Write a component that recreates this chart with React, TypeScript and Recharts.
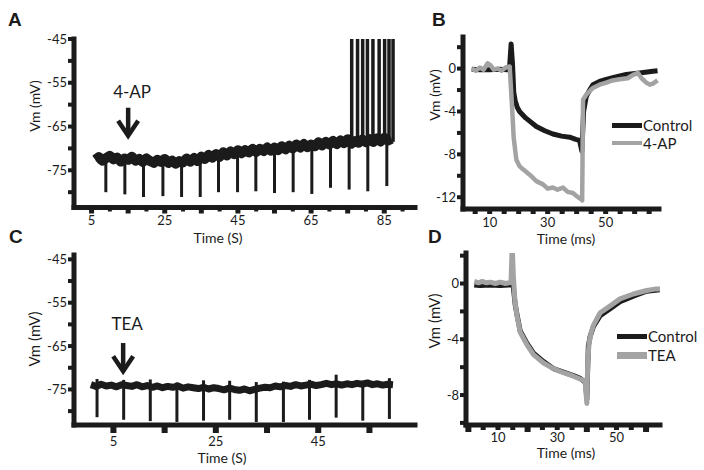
import React from 'react';
import { LineChart, Line, XAxis, YAxis, ReferenceLine, Legend } from 'recharts';

const INK = '#1b1b1b';
const GRAY = '#a3a3a3';

// ---------- A: 4-AP, whole-cell recording (time in s, 1 s samples from 6 s) ----------
const aStartS = 6;
const aVm = [
  -72.6, -72.0, -72.8, -72.2, -71.7, -72.5, -72.1, -73.0, -72.3, -72.6,
  -71.9, -72.8, -72.4, -73.1, -72.3, -72.9, -73.3, -72.6, -73.1, -72.4,
  -73.3, -72.8, -73.5, -72.9, -73.2, -72.3, -73.0, -72.2, -72.9, -71.9,
  -72.4, -71.5, -72.1, -71.3, -71.9, -70.9, -71.6, -70.7, -71.3, -70.4,
  -71.1, -70.4, -70.9, -70.1, -70.8, -70.1, -70.6, -69.8, -70.5, -69.8,
  -70.4, -69.5, -70.2, -69.4, -70.0, -69.1, -69.8, -69.0, -69.7, -69.1,
  -69.5, -68.6, -69.3, -68.5, -69.1, -68.3, -69.0, -68.2, -68.8, -67.9,
  -68.9, -68.3, -68.7, -68.0, -68.6, -67.9, -68.5, -67.7, -68.4, -67.6,
  -68.2, -67.8,
];
const aPulseTimes = [8.9, 14.1, 19.2, 24.5, 29.6, 34.7, 39.7, 44.9, 49.9, 55.0, 60.1, 65.2, 70.3, 75.4, 80.5, 85.7];
const aPulseFrom = [-72.4, -72.3, -72.6, -72.8, -73.0, -72.6, -71.6, -70.8, -70.6, -70.0, -69.8, -69.2, -69.0, -68.3, -68.4, -68.0];
const aPulseMin = [-80.0, -80.5, -81.1, -80.9, -81.1, -81.1, -80.0, -80.0, -79.8, -80.2, -80.0, -80.4, -79.0, -79.4, -79.8, -78.6];
const aSpikeTimes = [76.1, 77.7, 79.1, 80.4, 81.9, 83.6, 85.1, 86.3, 87.4];
const aSpikeFrom = -68.5;
const aSpikePeak = -45;

// ---------- C: TEA (time in s, 1 s samples from 0.6 s) ----------
const cStartS = 0.6;
const cVm = [
  -73.9, -74.3, -73.8, -74.2, -74.0, -74.4, -73.9, -74.1, -74.3, -73.9,
  -74.4, -74.1, -74.5, -74.2, -74.6, -74.3, -74.5, -74.2, -74.7, -74.4,
  -74.6, -74.8, -74.5, -74.9, -74.6, -74.8, -75.1, -74.7, -75.0, -75.2,
  -74.9, -75.3, -75.0, -74.7, -74.5, -74.6, -74.2, -74.4, -74.1, -74.3,
  -73.9, -74.2, -74.0, -73.8, -74.1, -73.9, -73.6, -73.9, -73.7, -74.0,
  -73.7, -73.9, -73.6, -73.8, -73.5, -73.9, -73.7, -74.0, -73.8, -73.9,
];
const cPulseTimes = [1.8, 7.0, 12.2, 17.4, 22.6, 27.7, 32.9, 38.2, 43.3, 48.5, 53.7, 58.9];
const cPulseTop = [-72.6, -72.8, -72.7, -73.4, -72.9, -73.0, -73.3, -73.2, -72.8, -71.6, -73.0, -72.4];
const cPulseMin = [-81.4, -82.0, -82.3, -82.5, -82.2, -82.0, -82.5, -82.5, -82.0, -81.5, -82.2, -81.8];

// ---------- B: hyperpolarising step, control vs 4-AP (time in ms) ----------
const bControlT = [3.8, 6.6, 10, 13.4, 16.2, 16.9, 17.4, 17.9, 18.3, 18.8, 19.5, 20.3, 22.4, 26.1, 29.0, 31.8, 34.8, 37.6, 39.7, 41.0, 41.8, 42.4, 43.3, 44.5, 45.6, 47.9, 50.2, 53.1, 57.1, 61.7, 66.3, 67.9];
const bControlVm = [-0.05, -0.1, -0.1, -0.05, -0.1, 0.3, 2.3, 0.3, -2.2, -3.0, -3.6, -4.0, -4.6, -5.4, -5.8, -6.1, -6.3, -6.4, -6.6, -6.7, -7.7, -4.0, -2.6, -2.0, -1.5, -1.2, -1.0, -0.8, -0.55, -0.4, -0.25, -0.2];
const b4apT = [3.8, 5.2, 6.6, 7.9, 9.3, 10.3, 11.4, 12.8, 14.1, 15.5, 16.9, 17.6, 18.3, 19.2, 20.3, 21.5, 23.8, 26.1, 28.4, 30.0, 31.8, 33.4, 35.3, 36.9, 38.7, 40.0, 41.6, 41.9, 42.2, 43.4, 45.6, 47.9, 50.2, 52.4, 54.8, 57.6, 59.3, 61.1, 62.4, 64.0, 65.2, 66.3, 67.9];
const b4apVm = [0.0, -0.2, 0.1, -0.1, 0.5, 0.3, -0.1, 0.0, -0.2, 0.1, 0.2, -3.0, -6.5, -8.5, -9.1, -9.4, -9.9, -10.5, -10.8, -11.2, -11.1, -11.3, -11.1, -11.5, -11.6, -11.9, -12.2, -12.3, -2.9, -2.4, -1.8, -1.5, -1.3, -1.1, -1.0, -0.9, -0.6, -0.4, -0.9, -1.3, -1.5, -1.4, -1.1];

// ---------- D: hyperpolarising step, control vs TEA (time in ms) ----------
const dControlT = [2.0, 4.0, 7.4, 10.8, 13.5, 14.4, 14.8, 15.3, 15.8, 16.4, 17.5, 19.8, 22.0, 25.4, 28.7, 32.1, 35.5, 37.7, 38.9, 39.6, 40.0, 40.5, 41.1, 42.2, 44.5, 47.9, 51.2, 55.7, 60.2, 64.7];
const dControlVm = [-0.1, -0.15, -0.1, -0.15, -0.1, -0.1, 0.8, -0.5, -1.5, -2.2, -3.4, -4.3, -5.0, -5.6, -6.1, -6.35, -6.6, -6.8, -7.0, -7.1, -8.3, -4.5, -3.8, -3.1, -2.3, -1.8, -1.3, -0.9, -0.55, -0.45];
const dTeaT = [2.0, 3.4, 4.7, 6.1, 7.4, 9.1, 10.8, 12.5, 13.8, 14.4, 14.8, 15.2, 15.7, 16.4, 17.5, 19.8, 22.0, 25.4, 28.7, 32.1, 35.5, 37.7, 39.4, 40.0, 40.3, 40.8, 41.5, 42.2, 44.5, 47.9, 51.2, 55.7, 60.2, 63.0, 64.7];
const dTeaVm = [0.15, 0.05, 0.15, 0.05, 0.1, 0.0, 0.1, 0.0, 0.05, 0.1, 2.7, 0.5, -1.2, -2.3, -3.5, -4.4, -5.1, -5.7, -6.1, -6.4, -6.65, -6.85, -7.0, -8.6, -5.5, -4.2, -3.5, -3.0, -2.1, -1.6, -1.1, -0.75, -0.5, -0.4, -0.4];

// ---------- axes ----------
const sXTicks = [5, 10, 15, 20, 25, 30, 35, 40, 45, 50, 55, 60, 65, 70, 75, 80, 85, 90];
const sXLabels = [5, 25, 45, 65, 85];
const cXTicks = [5, 15, 25, 35, 45, 55];
const cXLabels = [5, 25, 45];
const vmTicks = [-80, -75, -70, -65, -60, -55, -50, -45];
const vmLabels = [-75, -65, -55, -45];
const bXTicks = [5, 10, 15, 20, 25, 30, 35, 40, 45, 50, 55, 60, 65];
const dXTicks = [0, 5, 10, 15, 20, 25, 30, 35, 40, 45, 50, 55, 60];
const msLabels = [10, 30, 50];
const bYTicks = [2, 0, -2, -4, -6, -8, -10, -12];
const bYLabels = [0, -4, -8, -12];
const dYTicks = [2, 0, -2, -4, -6, -8, -10];
const dYLabels = [0, -4, -8];

const sampled = (start: number, vm: number[]) => vm.map((v, i) => ({ t: start + i, vm: v }));
const paired = (ts: number[], vm: number[]) => ts.map((t, i) => ({ t, vm: vm[i] }));

const axisLine = { stroke: INK, strokeWidth: 5, strokeLinecap: 'square' as const };

function YTick(props: any) {
  const { x, y, payload, labels } = props;
  return (
    <g>
      <rect x={x - 6} y={y - 2} width={6} height={4} fill={INK} />
      {labels.includes(payload.value) && (
        <text x={x - 7} y={y} dy="0.35em" textAnchor="end" fontSize={13} fill={INK}>
          {payload.value}
        </text>
      )}
    </g>
  );
}

function XTick(props: any) {
  const { x, y, payload, labels, big, w, h, gap } = props;
  const major = big ? big.includes(payload.value) : true;
  const tw = major ? w : w - 1;
  const th = major ? h : h - 2;
  return (
    <g>
      <rect x={x - tw / 2} y={y} width={tw} height={th} fill={INK} />
      {labels.includes(payload.value) && (
        <text x={x} y={y + gap} dy="0.35em" textAnchor="middle" fontSize={13} fill={INK}>
          {payload.value}
        </text>
      )}
    </g>
  );
}

function AxisTitle(props: any) {
  const { text, cx, cy, size, vertical } = props;
  return (
    <text
      x={cx}
      y={cy}
      textAnchor="middle"
      dominantBaseline="central"
      fontSize={size}
      fill={INK}
      transform={vertical ? `rotate(-90 ${cx} ${cy})` : undefined}
    >
      {text}
    </text>
  );
}

function DrugArrow(props: any) {
  const { x1, y1, x2, y2, text, lift } = props;
  return (
    <g>
      <text x={x1 + 4} y={y1 - lift} textAnchor="middle" fontSize={17} fill={INK}>
        {text}
      </text>
      <line x1={x1} y1={y1} x2={x2} y2={y2 - 6} stroke={INK} strokeWidth={4.5} />
      <polyline
        points={`${x2 - 10},${y2 - 19} ${x2},${y2 - 4} ${x2 + 10},${y2 - 19}`}
        fill="none"
        stroke={INK}
        strokeWidth={4.5}
      />
    </g>
  );
}

function TraceLegend(props: any) {
  const { payload, order, thick, row } = props;
  const items = [...(payload || [])].sort((a: any, b: any) => order.indexOf(a.value) - order.indexOf(b.value));
  return (
    <div style={{ fontSize: 15, color: INK }}>
      {items.map((e: any, i: number) => (
        <div key={e.value} style={{ display: 'flex', alignItems: 'center', height: row }}>
          <span style={{ display: 'inline-block', width: 30, height: thick[i], background: e.color }} />
          <span style={{ marginLeft: 1, lineHeight: 1 }}>{e.value}</span>
        </div>
      ))}
    </div>
  );
}

const letterStyle: React.CSSProperties = {
  position: 'absolute',
  fontFamily: '"Liberation Sans", Arial, sans-serif',
  fontWeight: 700,
  fontSize: 19,
  lineHeight: '19px',
  color: INK,
};

export default function App() {
  const aRows = sampled(aStartS, aVm);
  const cRows = sampled(cStartS, cVm);

  return (
    <div
      style={{
        position: 'absolute',
        left: 0,
        top: 0,
        width: 704,
        height: 470,
        background: '#fff',
        fontFamily: 'Lato, "Open Sans", sans-serif',
      }}
    >
      {/* A */}
      <div style={{ position: 'absolute', left: 0, top: 0 }}>
        <LineChart width={420} height={250} margin={{ top: 39, right: 5, bottom: 12.5, left: 0 }}>
          <XAxis
            type="number"
            dataKey="t"
            domain={[0.2, 93.4]}
            ticks={sXTicks}
            interval={0}
            allowDataOverflow
            height={30}
            tickSize={0}
            tickMargin={0}
            tickLine={false}
            axisLine={axisLine}
            tick={(p: any) => <XTick {...p} labels={sXLabels} big={[5, 15, 25, 35, 45, 55, 65, 75, 85]} w={5} h={6} gap={13} />}
            label={<AxisTitle text="Time (S)" cx={218} cy={237} size={14} />}
          />
          <YAxis
            type="number"
            domain={[-83.5, -45]}
            ticks={vmTicks}
            interval={0}
            allowDataOverflow
            width={74}
            tickSize={0}
            tickMargin={0}
            tickLine={false}
            axisLine={axisLine}
            tick={(p: any) => <YTick {...p} labels={vmLabels} />}
            label={<AxisTitle text="Vm (mV)" cx={34} cy={106} size={14} vertical />}
          />
          {aPulseTimes.map((t, i) => (
            <ReferenceLine
              key={'ap' + i}
              segment={[{ x: t, y: aPulseFrom[i] }, { x: t, y: aPulseMin[i] }]}
              stroke={INK}
              strokeWidth={3}
              ifOverflow="visible"
            />
          ))}
          {aSpikeTimes.map((t, i) => (
            <ReferenceLine
              key={'as' + i}
              segment={[{ x: t, y: aSpikeFrom }, { x: t, y: aSpikePeak }]}
              stroke={INK}
              strokeWidth={3.5}
              ifOverflow="visible"
            />
          ))}
          <Line
            data={aRows}
            dataKey="vm"
            type="linear"
            stroke={INK}
            strokeWidth={10}
            strokeLinejoin="round"
            dot={false}
            isAnimationActive={false}
          />
          <ReferenceLine
            segment={[{ x: 15.0, y: -60.7 }, { x: 15.0, y: -68.0 }]}
            ifOverflow="visible"
            shape={(p: any) => <DrugArrow {...p} text="4-AP" lift={10} />}
          />
        </LineChart>
      </div>

      {/* B */}
      <div style={{ position: 'absolute', left: 420, top: 0 }}>
        <LineChart width={284} height={250} margin={{ top: 37, right: 45, bottom: 11, left: 0 }}>
          <XAxis
            type="number"
            dataKey="t"
            domain={[0.8, 68.4]}
            ticks={bXTicks}
            interval={0}
            allowDataOverflow
            height={30}
            tickSize={0}
            tickMargin={0}
            tickLine={false}
            axisLine={axisLine}
            tick={(p: any) => <XTick {...p} labels={msLabels} w={5} h={5} gap={13} />}
            label={<AxisTitle text="Time (ms)" cx={146} cy={238} size={14} />}
          />
          <YAxis
            type="number"
            domain={[-13.1, 2.95]}
            ticks={bYTicks}
            interval={0}
            allowDataOverflow
            width={43}
            tickSize={0}
            tickMargin={0}
            tickLine={false}
            axisLine={axisLine}
            tick={(p: any) => <YTick {...p} labels={bYLabels} />}
            label={<AxisTitle text="Vm (mV)" cx={14} cy={95} size={14} vertical />}
          />
          <Line
            data={paired(bControlT, bControlVm)}
            dataKey="vm"
            name="Control"
            type="linear"
            stroke={INK}
            strokeWidth={5}
            strokeLinejoin="round"
            dot={false}
            isAnimationActive={false}
          />
          <Line
            data={paired(b4apT, b4apVm)}
            dataKey="vm"
            name="4-AP"
            type="linear"
            stroke={GRAY}
            strokeWidth={4.5}
            strokeLinejoin="round"
            dot={false}
            isAnimationActive={false}
          />
          <Legend
            layout="vertical"
            align="center"
            verticalAlign="middle"
            wrapperStyle={{ left: 192, top: 116, width: 'auto', height: 'auto' }}
            content={(p: any) => <TraceLegend payload={p.payload} order={['Control', '4-AP']} thick={[5, 4.5]} row={18} />}
          />
        </LineChart>
      </div>

      {/* C */}
      <div style={{ position: 'absolute', left: 0, top: 230 }}>
        <LineChart width={420} height={240} margin={{ top: 25, right: 5, bottom: 15, left: 0 }}>
          <XAxis
            type="number"
            dataKey="t"
            domain={[-2.7, 63.9]}
            ticks={cXTicks}
            interval={0}
            allowDataOverflow
            height={30}
            tickSize={0}
            tickMargin={0}
            tickLine={false}
            axisLine={axisLine}
            tick={(p: any) => <XTick {...p} labels={cXLabels} w={6} h={8} gap={16} />}
            label={<AxisTitle text="Time (S)" cx={222} cy={227} size={14} />}
          />
          <YAxis
            type="number"
            domain={[-83.2, -44]}
            ticks={vmTicks}
            interval={0}
            allowDataOverflow
            width={74}
            tickSize={0}
            tickMargin={0}
            tickLine={false}
            axisLine={axisLine}
            tick={(p: any) => <YTick {...p} labels={vmLabels} />}
            label={<AxisTitle text="Vm (mV)" cx={34} cy={109} size={15} vertical />}
          />
          {cPulseTimes.map((t, i) => (
            <ReferenceLine
              key={'cp' + i}
              segment={[{ x: t, y: cPulseTop[i] }, { x: t, y: cPulseMin[i] }]}
              stroke={INK}
              strokeWidth={3}
              ifOverflow="visible"
            />
          ))}
          <Line
            data={cRows}
            dataKey="vm"
            type="linear"
            stroke={INK}
            strokeWidth={7}
            strokeLinejoin="round"
            dot={false}
            isAnimationActive={false}
          />
          <ReferenceLine
            segment={[{ x: 6.9, y: -64.3 }, { x: 6.9, y: -71.7 }]}
            ifOverflow="visible"
            shape={(p: any) => <DrugArrow {...p} text="TEA" lift={13} />}
          />
        </LineChart>
      </div>

      {/* D */}
      <div style={{ position: 'absolute', left: 420, top: 230 }}>
        <LineChart width={284} height={240} margin={{ top: 23, right: 44, bottom: 15, left: 0 }}>
          <XAxis
            type="number"
            dataKey="t"
            domain={[-0.8, 64.7]}
            ticks={dXTicks}
            interval={0}
            allowDataOverflow
            height={30}
            tickSize={0}
            tickMargin={0}
            tickLine={false}
            axisLine={axisLine}
            tick={(p: any) => <XTick {...p} labels={msLabels} big={[0, 20, 40, 60]} w={6} h={7} gap={12} />}
            label={<AxisTitle text="Time (ms)" cx={146} cy={222} size={14} />}
          />
          <YAxis
            type="number"
            domain={[-10.15, 2.19]}
            ticks={dYTicks}
            interval={0}
            allowDataOverflow
            width={46}
            tickSize={0}
            tickMargin={0}
            tickLine={false}
            axisLine={axisLine}
            tick={(p: any) => <YTick {...p} labels={dYLabels} />}
            label={<AxisTitle text="Vm (mV)" cx={14} cy={91} size={15} vertical />}
          />
          <Line
            data={paired(dControlT, dControlVm)}
            dataKey="vm"
            name="Control"
            type="linear"
            stroke={INK}
            strokeWidth={5}
            strokeLinejoin="round"
            dot={false}
            isAnimationActive={false}
          />
          <Line
            data={paired(dTeaT, dTeaVm)}
            dataKey="vm"
            name="TEA"
            type="linear"
            stroke={GRAY}
            strokeWidth={5}
            strokeLinejoin="round"
            dot={false}
            isAnimationActive={false}
          />
          <Legend
            layout="vertical"
            align="center"
            verticalAlign="middle"
            wrapperStyle={{ left: 197, top: 96.5, width: 'auto', height: 'auto' }}
            content={(p: any) => <TraceLegend payload={p.payload} order={['Control', 'TEA']} thick={[5, 7]} row={19} />}
          />
        </LineChart>
      </div>

      <div style={{ ...letterStyle, left: 8, top: 9.5 }}>A</div>
      <div style={{ ...letterStyle, left: 432, top: 9.5 }}>B</div>
      <div style={{ ...letterStyle, left: 9, top: 226.5 }}>C</div>
      <div style={{ ...letterStyle, left: 428, top: 226.5 }}>D</div>
    </div>
  );
}
